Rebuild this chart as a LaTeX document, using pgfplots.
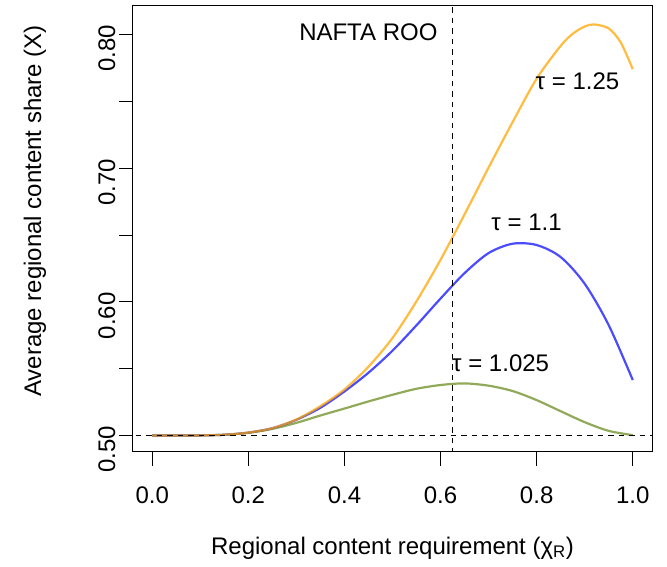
\documentclass[border=0pt]{standalone}
\usepackage{fontspec}
\setmainfont{Liberation Sans}
\usepackage{pgfplots}
\pgfplotsset{compat=1.18}
\newcommand\f{\fontsize{24}{28}\selectfont}
\definecolor{corange}{RGB}{255,165,0}
\definecolor{cblue}{RGB}{0,0,255}
\definecolor{cgreen}{RGB}{107,142,35}
\begin{document}
\begin{tikzpicture}
\begin{axis}[
  scale only axis,
  width=519pt, height=446pt,
  xmin=-0.04, xmax=1.04, ymin=0.4877, ymax=0.8213,
  axis line style={line width=1pt},
  tick style={line width=1pt, black},
  tick align=outside, major tick length=14pt,
  xtick={0,0.2,0.4,0.6,0.8,1.0},
  xticklabels={0.0,0.2,0.4,0.6,0.8,1.0},
  ytick={0.50,0.55,0.60,0.65,0.70,0.75,0.80},
  yticklabels={0.50,,0.60,,0.70,,0.80},
  xtick pos=bottom, ytick pos=left,
  /pgf/number format/assume math mode=true,
  tick label style={font=\f},
  xticklabel style={anchor=north, yshift=-17pt},
  yticklabel style={rotate=90, anchor=south, xshift=-14pt},
  xlabel={Regional content requirement (χ\textsubscript{R})},
  ylabel={Average regional content share (X)},
  label style={font=\f},
  xlabel style={at={(axis description cs:0.5,0)}, anchor=center, yshift=-96pt},
  ylabel style={at={(axis description cs:0,0.5)}, anchor=center, yshift=98pt, xshift=18pt},
  clip=true,
]
\addplot[cgreen, opacity=0.75, line width=2.2pt, smooth] coordinates {
(0.00,0.5000) (0.05,0.5000) (0.10,0.5001) (0.15,0.5006) (0.20,0.5020)
(0.25,0.5050) (0.30,0.5095) (0.35,0.5150) (0.40,0.5202) (0.45,0.5255)
(0.50,0.5305) (0.55,0.5350) (0.60,0.5378) (0.65,0.5390) (0.70,0.5373)
(0.75,0.5333) (0.80,0.5265) (0.85,0.5182) (0.90,0.5100) (0.95,0.5035)
(1.00,0.5003)};
\addplot[cblue, opacity=0.7, line width=2.2pt, smooth] coordinates {
(0.00,0.5000) (0.05,0.5000) (0.10,0.5001) (0.15,0.5006) (0.20,0.5022)
(0.25,0.5055) (0.30,0.5118) (0.35,0.5208) (0.40,0.5330) (0.45,0.5470)
(0.50,0.5635) (0.55,0.5825) (0.60,0.6025) (0.65,0.6215) (0.70,0.6365)
(0.75,0.6435) (0.80,0.6425) (0.85,0.6335) (0.90,0.6135)
(0.95,0.5825) (1.00,0.5415)};
\addplot[corange, opacity=0.75, line width=2.2pt, smooth] coordinates {
(0.00,0.5000) (0.05,0.5000) (0.10,0.5001) (0.15,0.5006) (0.20,0.5022)
(0.25,0.5055) (0.30,0.5120) (0.35,0.5220) (0.40,0.5345) (0.45,0.5515)
(0.50,0.5730) (0.55,0.6005) (0.60,0.6315) (0.65,0.6655) (0.70,0.7005)
(0.75,0.7345) (0.80,0.7670) (0.85,0.7915) (0.875,0.8005) (0.90,0.8060)
(0.92,0.8075) (0.95,0.8045) (0.975,0.7940) (1.00,0.7740)};
\addplot[black, dash pattern=on 5.5pt off 5pt, line width=1.1pt] coordinates {(-0.1,0.5) (1.1,0.5)};
\addplot[black, dash pattern=on 5.5pt off 5pt, line width=1.1pt] coordinates {(0.625,0.4) (0.625,0.9)};
\node[font=\f, anchor=east, inner sep=0pt] at (axis cs:0.594,0.8015) {NAFTA ROO};
\node[font=\f, inner sep=0pt] at (axis cs:0.885,0.7647) {τ = 1.25};
\node[font=\f, inner sep=0pt] at (axis cs:0.779,0.6594) {τ = 1.1};
\node[font=\f, inner sep=0pt] at (axis cs:0.725,0.5541) {τ = 1.025};
\end{axis}
\path (current axis.south west) ++(-133pt,-115pt) coordinate (bl);
\path (current axis.north east) ++(15pt,6pt) coordinate (tr);
\useasboundingbox (bl) rectangle (tr);
\end{tikzpicture}
\end{document}
